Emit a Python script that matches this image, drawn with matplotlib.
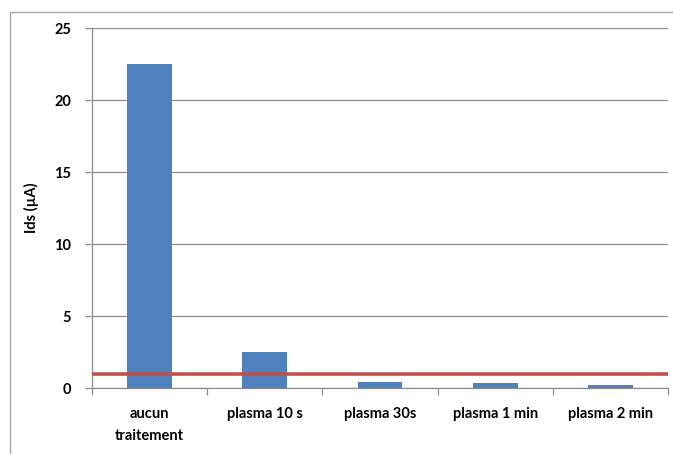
import matplotlib
matplotlib.use("Agg")
import matplotlib.pyplot as plt
from matplotlib.patches import Rectangle
import numpy as np

categories = ["aucun\ntraitement", "plasma 10 s", "plasma 30s", "plasma 1 min", "plasma 2 min"]
values = [22.5, 2.5, 0.42, 0.32, 0.23]
threshold = 1.0
yticks = [0, 5, 10, 15, 20, 25]

plt.rcParams['font.family'] = ['Lato', 'DejaVu Sans']

fig = plt.figure(figsize=(6.73, 4.54), dpi=100)
ax = fig.add_axes([92/673, 66/454, (668-92)/673, (388-28)/454])

x = np.arange(len(categories))
ax.bar(x, values, width=0.39, color="#4F81BD", zorder=3)
ax.axhline(threshold, color="#C0504D", linewidth=2.6, zorder=4)

ax.set_xlim(-0.5, len(categories) - 0.5)
ax.set_ylim(0, 25)
ax.set_yticks(yticks)
ax.set_yticklabels([str(t) for t in yticks], fontsize=10.5, fontweight='bold')
ax.yaxis.grid(True, color="#8c8c8c", linewidth=0.9, zorder=0)
ax.set_axisbelow(True)

ax.set_xticks(x)
ax.set_xticklabels(categories, fontsize=10.5, fontweight='bold', linespacing=1.65)
ax.set_xticks(np.arange(len(categories) + 1) - 0.5, minor=True)
ax.tick_params(axis='x', which='major', length=0, pad=14)
ax.tick_params(axis='x', which='minor', length=5, color="#8c8c8c", width=0.9)
ax.tick_params(axis='y', length=5, color="#8c8c8c", width=0.9, pad=10)

for s in ['top', 'right']:
    ax.spines[s].set_visible(False)
for s in ['left', 'bottom']:
    ax.spines[s].set_color("#8c8c8c")
    ax.spines[s].set_linewidth(0.9)

ax.set_ylabel("Ids (µA)", fontsize=10.5, fontweight='bold', labelpad=11)

border = Rectangle((10/673, -0.1), 1.0, (454-12)/454 + 0.1, transform=fig.transFigure,
                   fill=False, edgecolor="#a6a6a6", linewidth=1.0, clip_on=False)
fig.patches.append(border)

fig.savefig("out.png", dpi=100)
